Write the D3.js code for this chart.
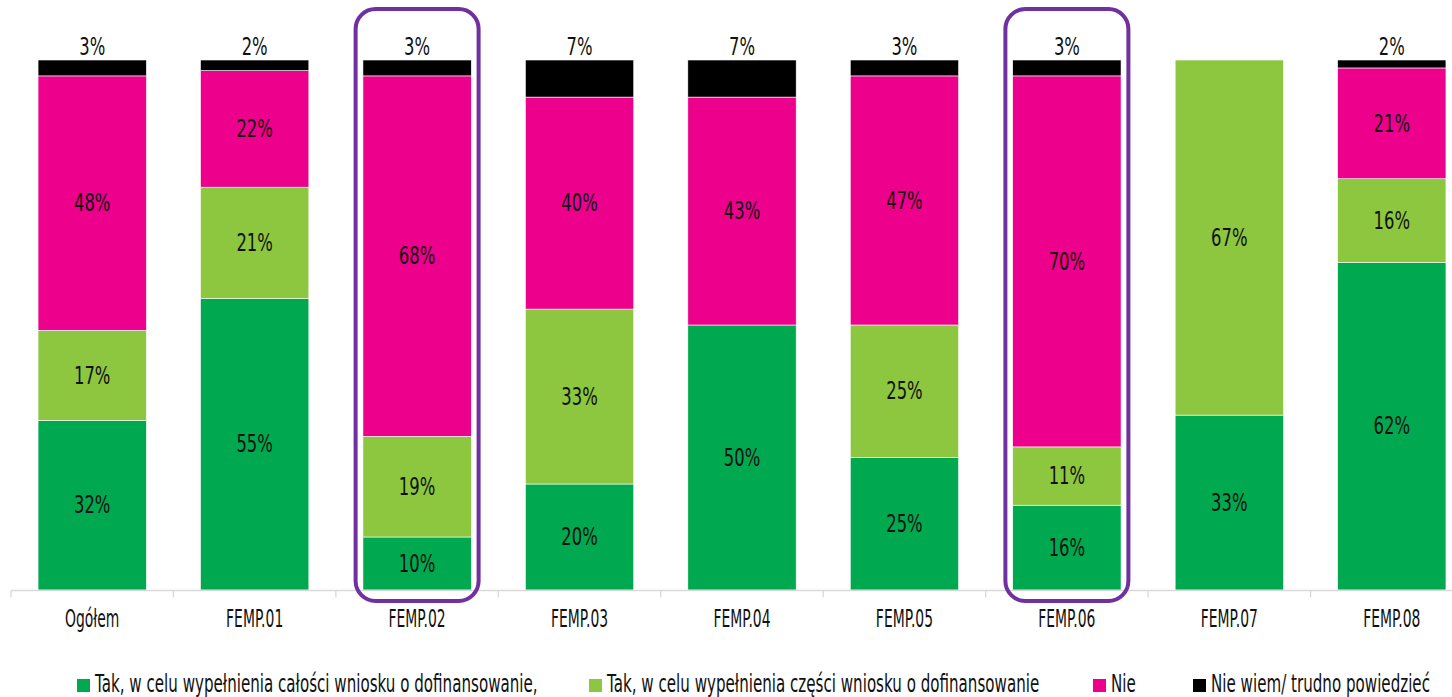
<!DOCTYPE html>
<html>
<head>
<meta charset="utf-8">
<script src="https://cdn.jsdelivr.net/npm/d3@7"></script>
<style>
html,body{margin:0;padding:0;background:#fff;}
svg{display:block;}
text{font-family:"DejaVu Sans",sans-serif;fill:#111;}
</style>
</head>
<body>
<svg id="chart" width="1452" height="697"></svg>
<script>
const categories = ["Ogółem","FEMP.01","FEMP.02","FEMP.03","FEMP.04","FEMP.05","FEMP.06","FEMP.07","FEMP.08"];
const seriesNames = ["Tak, w celu wypełnienia całości wniosku o dofinansowanie,","Tak, w celu wypełnienia części wniosku o dofinansowanie","Nie","Nie wiem/ trudno powiedzieć"];
const takCalosc = [32, 55, 10, 20, 50, 25, 16, 33, 61.8];
const takCzesc  = [17, 21, 19, 33, 0, 25, 11, 67, 15.8];
const nie       = [48, 22, 68, 40, 43, 47, 70, 0, 20.9];
const nieWiem   = [3, 2, 3, 7, 7, 3, 3, 0, 1.5];
const highlighted = ["FEMP.02","FEMP.06"];
const colors = ["#00A94F","#8DC63F","#EC008C","#000000"];

const svg = d3.select("#chart");
const rows = categories.map((c,i)=>({cat:c, s0:takCalosc[i], s1:takCzesc[i], s2:nie[i], s3:nieWiem[i]}));
const keys = ["s0","s1","s2","s3"];
const stacked = d3.stack().keys(keys)(rows);

const x = d3.scaleBand().domain(categories).range([11, 1473]).paddingInner(0.333).paddingOuter(0.1665);
const y = d3.scaleLinear().domain([0,100]).range([590, 60]);

// condensed text helper
function ctext(sel, sx) {
  return sel.attr("transform", function(){
    const tx = +this.getAttribute("data-x"), ty = +this.getAttribute("data-y");
    return `translate(${tx},${ty}) scale(${sx},1)`;
  });
}

// bars
stacked.forEach((layer, li) => {
  svg.append("g").selectAll("rect").data(layer).join("rect")
    .attr("x", d => x(d.data.cat))
    .attr("width", x.bandwidth())
    .attr("y", d => y(d[1]))
    .attr("height", d => Math.max(0, y(d[0]) - y(d[1])))
    .attr("fill", colors[li])
    .attr("stroke", "#ffffff")
    .attr("stroke-width", 0.6)
    .attr("display", d => (d[1]-d[0]) > 0 ? null : "none");
});

// labels
stacked.forEach((layer, li) => {
  const t = svg.append("g").selectAll("text").data(layer.filter(d => d[1]-d[0] > 0)).join("text")
    .attr("data-x", d => x(d.data.cat) + x.bandwidth()/2)
    .attr("data-y", d => li === 3 ? 46.5 : (y(d[0]) + y(d[1]))/2)
    .attr("text-anchor", "middle")
    .attr("dominant-baseline", "central")
    .attr("font-size", 24.5)
    .text(d => Math.round(d[1]-d[0]) + "%");
  ctext(t, 0.67);
});

// axis
const axisG = svg.append("g").attr("transform", "translate(0,590.5)");
axisG.append("line").attr("x1", 11).attr("x2", 1473).attr("stroke", "#D9D9D9").attr("stroke-width", 1.3);
const bounds = categories.map((c) => x(c) - x.step()*x.paddingInner()/2).concat([1473]);
axisG.selectAll("line.tick").data(bounds).join("line").attr("class","tick")
  .attr("x1", d => d).attr("x2", d => d).attr("y1", 0).attr("y2", 7)
  .attr("stroke", "#D9D9D9").attr("stroke-width", 1.3);
const at = axisG.selectAll("text").data(categories).join("text")
  .attr("data-x", d => x(d) + x.bandwidth()/2)
  .attr("data-y", 29)
  .attr("text-anchor", "middle")
  .attr("dominant-baseline", "central")
  .attr("font-size", 24)
  .text(d => d);
ctext(at, 0.58);

// highlight rounded rectangles
svg.append("g").selectAll("rect").data(highlighted).join("rect")
  .attr("x", d => x(d) + x.bandwidth()/2 - 61.5)
  .attr("width", 123)
  .attr("y", 9)
  .attr("height", 592)
  .attr("rx", 20).attr("ry", 20)
  .attr("fill", "none")
  .attr("stroke", "#7030A0")
  .attr("stroke-width", 4);

// legend
const legendX = [77, 589, 1093, 1193];
const lg = svg.append("g").selectAll("g").data(seriesNames).join("g")
  .attr("transform", (d,i) => `translate(${legendX[i]},679)`);
lg.append("rect").attr("width", 13).attr("height", 13).attr("fill", (d,i)=>colors[i]);
const lt = lg.append("text")
  .attr("data-x", 18).attr("data-y", 5)
  .attr("dominant-baseline","central").attr("font-size", 24.5).text(d => d);
ctext(lt, 0.617);
</script>
</body>
</html>
